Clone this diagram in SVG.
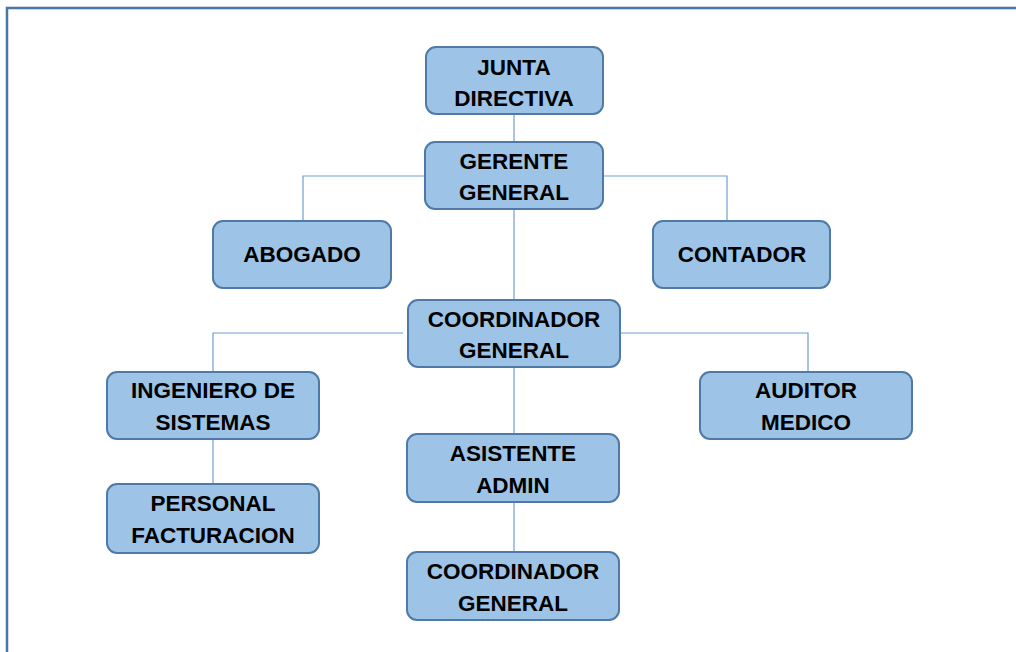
<svg xmlns="http://www.w3.org/2000/svg" width="1016" height="652" viewBox="0 0 1016 652">
<style>
.box{fill:#9dc3e6;stroke:#4f7aa6;stroke-width:2}
.t{font-family:"Liberation Sans",Arial,sans-serif;font-weight:bold;font-size:22.5px;fill:#000;text-anchor:middle}
.c{fill:none;stroke:#6f9fd3;stroke-width:1.2}
</style>
<rect x="0" y="0" width="1016" height="652" fill="#fff"/>
<rect x="7" y="8" width="1030" height="680" fill="none" stroke="#4a76a8" stroke-width="2.5"/>
<g id="connectors">
<path class="c" d="M514 114V142"/>
<path class="c" d="M425 176H303V221"/>
<path class="c" d="M603 176H727V221"/>
<path class="c" d="M514 209V300"/>
<path class="c" d="M403 333H213V372"/>
<path class="c" d="M620 333H808V372"/>
<path class="c" d="M514 367V434"/>
<path class="c" d="M213 439V484"/>
<path class="c" d="M514 502V552"/>
</g>
<g id="junta"><rect class="box" x="426" y="47" width="177" height="67" rx="10"/><text class="t" x="514" y="75">JUNTA</text><text class="t" x="514" y="106">DIRECTIVA</text></g>
<g id="gerente"><rect class="box" x="425" y="142" width="178" height="67" rx="10"/><text class="t" x="514" y="169">GERENTE</text><text class="t" x="514" y="200">GENERAL</text></g>
<g id="abogado"><rect class="box" x="213" y="221" width="178" height="67" rx="10"/><text class="t" x="302" y="262">ABOGADO</text></g>
<g id="contador"><rect class="box" x="653" y="221" width="177" height="67" rx="10"/><text class="t" x="742" y="262">CONTADOR</text></g>
<g id="coordinador1"><rect class="box" x="408" y="300" width="212" height="67" rx="10"/><text class="t" x="514" y="327">COORDINADOR</text><text class="t" x="514" y="358">GENERAL</text></g>
<g id="ingeniero"><rect class="box" x="107" y="372" width="212" height="67" rx="10"/><text class="t" x="213" y="398">INGENIERO DE</text><text class="t" x="213" y="430">SISTEMAS</text></g>
<g id="auditor"><rect class="box" x="700" y="372" width="212" height="67" rx="10"/><text class="t" x="806" y="398">AUDITOR</text><text class="t" x="806" y="430">MEDICO</text></g>
<g id="asistente"><rect class="box" x="407" y="434" width="212" height="68" rx="10"/><text class="t" x="513" y="461">ASISTENTE</text><text class="t" x="513" y="493">ADMIN</text></g>
<g id="personal"><rect class="box" x="107" y="484" width="212" height="69" rx="10"/><text class="t" x="213" y="511">PERSONAL</text><text class="t" x="213" y="543">FACTURACION</text></g>
<g id="coordinador2"><rect class="box" x="407" y="552" width="212" height="68" rx="10"/><text class="t" x="513" y="579">COORDINADOR</text><text class="t" x="513" y="611">GENERAL</text></g>
</svg>
